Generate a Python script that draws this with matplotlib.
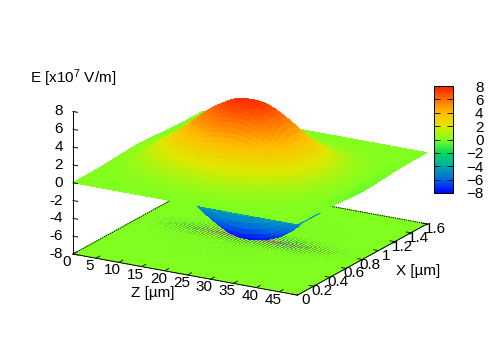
import matplotlib
matplotlib.use('Agg')
import matplotlib.pyplot as plt
import numpy as np
from matplotlib.colors import LinearSegmentedColormap, Normalize
from matplotlib.cm import ScalarMappable
from mpl_toolkits.mplot3d import proj3d

plt.rcParams['font.family'] = 'Liberation Sans'
plt.rcParams['mathtext.default'] = 'regular'
plt.rcParams['font.size'] = 11

# -----------------------------
# Data
# -----------------------------
z_um = np.arange(50.0)
# relative height of the hump along z, one value per um
along_z = np.array([.04, .03, .04, .08, .13, .18, .22, .27, .32, .37,
                    .43, .49, .55, .61, .67, .73, .78, .83, .87, .91,
                    .95, .975, .99, 1, 1, 1, .99, .97, .94, .90,
                    .85, .80, .74, .68, .61, .54, .47, .41, .35, .29,
                    .24, .19, .15, .11, .08, .05, .03, .01, -.02, -.05])
# same for the dip, which runs further to the right
low_z = np.array([.03, .03, .04, .08, .13, .18, .22, .27, .32, .37,
                  .43, .49, .55, .61, .67, .73, .78, .83, .87, .91,
                  .94, .97, .985, .995, 1, 1, .99, .98, .965, .945,
                  .92, .89, .85, .81, .76, .70, .63, .55, .47, .39,
                  .32, .27, .22, .17, .13, .09, .06, .04, .02, .01])
x_um = np.arange(65) * 0.025
# profiles across x from the edge to the middle, the other half is the mirror image
top_half = [0, .005, .01, .015, .02, .025, .035, .045, .055, .07, .09, .11, .135, .165, .195, .23, .27,
            .315, .365, .42, .475, .535, .595, .655, .715, .775, .83, .88, .92, .955, .98, .995, 1]
low_half = [0, 0, 0, 0, 0, 0, 0, .005, .005, .005, .01, .01, .01, .015, .015, .02, .025,
            .035, .05, .07, .1, .14, .2, .27, .36, .46, .57, .68, .78, .87, .94, .985, 1]
stripe_half = [0, 0, .01, .01, .01, .01, .01, .01, .01, .015, .015, .015, .02, .02, .02, .025, .03,
               .03, .04, .04, .05, .05, .05, .05, .05, .08, .12, .2, .3, .45, .6, .75, 1]
top_peak = 7.5
low_peak = 8.0
stripe_peak = 5.5

z_ticks = [0, 5, 10, 15, 20, 25, 30, 35, 40, 45]
x_ticks = [0, .2, .4, .6, .8, 1, 1.2, 1.4, 1.6]
x_ticklabels = ['0', '0.2', '0.4', '0.6', '0.8', '1', '1.2', '1.4', '1.6']
e_ticks = [-8, -6, -4, -2, 0, 2, 4, 6, 8]

palette = ['#0000ff', '#0068e0', '#00aaa8', '#00dc58', '#80ff20',
           '#e0e800', '#ffbc00', '#ff7000', '#ff1c00']


def mirror(half):
    half = np.array(half, dtype=float)
    return np.r_[half, half[-2::-1]]


# -----------------------------
# Surfaces
# -----------------------------
cmap = LinearSegmentedColormap.from_list('efield', palette, N=256)
norm = Normalize(-8, 8)

ZZ, XX = np.meshgrid(z_um, x_um)
E_top = top_peak * np.outer(mirror(top_half), along_z)
E_low = -low_peak * np.outer(mirror(low_half), low_z)

fig = plt.figure(figsize=(5.01, 3.51), dpi=100)
ax = fig.add_axes([0.1, 0.1, 0.8, 0.8], projection='3d', proj_type='ortho', computed_zorder=False)
ax.view_init(elev=18.5, azim=-60)
ax.set_box_aspect((1, 1, 0.58))
ax.set_xlim(0, 49)
ax.set_ylim(0, 1.6)
ax.set_zlim(-8, 8)
ax.set_axis_off()

# floor map, each z cell split in 3 stripes of alternating sign
split = 3
z_edges = np.linspace(0, 49, (len(z_um) - 1) * split + 1)
ZF, XF = np.meshgrid(z_edges, x_um)
signs = np.where(np.arange(len(z_edges) - 1) % 2 == 0, 1.0, -1.0)
cell_z = np.repeat(low_z[:-1], split)
floor_E = stripe_peak * np.outer(mirror(stripe_half)[:-1], cell_z * signs)
ax.plot_surface(ZF, XF, np.full(ZF.shape, -8.0), facecolors=cmap(norm(floor_E)), rstride=1, cstride=1,
                shade=False, antialiased=False, linewidth=0, zorder=1)

# box edges on the floor
ax.plot([0, 49], [0, 0], [-8, -8], color='k', lw=0.7, zorder=2)
ax.plot([49, 49], [0, 1.6], [-8, -8], color='k', lw=0.7, zorder=2)
ax.plot([0, 0], [0, 1.6], [-8, -8], color='k', lw=0.8, ls=(0, (1, 1)), zorder=2)
ax.plot([0, 49], [1.6, 1.6], [-8, -8], color='k', lw=0.8, ls=(0, (1, 1)), zorder=2)

ax.plot_surface(ZZ, XX, E_low, cmap=cmap, vmin=-8, vmax=8, rstride=1, cstride=1,
                shade=False, antialiased=False, linewidth=0, zorder=3)
# thin blue tail under the z=max edge
ax.plot([49, 49], [0, 0.27], [-0.1, -0.1], color='#0090d0', lw=1.6, zorder=3.5)
ax.plot_surface(ZZ, XX, E_top, cmap=cmap, vmin=-8, vmax=8, rstride=1, cstride=1,
                shade=False, antialiased=False, linewidth=0, zorder=4)

# vertical axis and ticks
ax.plot([0, 0], [0, 0], [-8, 8], color='k', lw=0.7, zorder=5)
for e in e_ticks:
    ax.plot([0, 1], [0, 0], [e, e], color='k', lw=0.7, zorder=5)
for z in z_ticks:
    ax.plot([z, z], [0, 0.05], [-8, -8], color='k', lw=0.6, zorder=5)
for x in x_ticks:
    ax.plot([49, 48], [x, x], [-8, -8], color='k', lw=0.6, zorder=5)


# move the axes so the floor corners land where they are in the picture
def to_px(a, b, c):
    px, py, _ = proj3d.proj_transform(a, b, c, ax.get_proj())
    return ax.transData.transform((px, py))


fig.canvas.draw()
p0 = to_px(0, 0, -8)
p1 = to_px(49, 1.6, -8)
scale = (427 - 73) / (p1[0] - p0[0])
pos = ax.get_position(original=True)
ax.set_position([0.1, 0.1, pos.width * scale, pos.height * scale])
fig.canvas.draw()
p0 = to_px(0, 0, -8)
pos = ax.get_position(original=True)
ax.set_position([pos.x0 + (73 - p0[0]) / 501, pos.y0 + (351 - 254 - p0[1]) / 351, pos.width, pos.height])
fig.canvas.draw()


# tick labels sit a fixed number of pixels away from their tick
def tick_label(a, b, c, text, dx, dy, ha='center'):
    px, py = to_px(a, b, c)
    fig.text((px + dx) / 501, (py + dy) / 351, text, ha=ha, va='center')


for e in e_ticks:
    tick_label(0, 0, e, str(e), -10, 0, ha='right')
for z in z_ticks:
    tick_label(z, 0, -8, str(z), -6, -8)
for x, lab in zip(x_ticks, x_ticklabels):
    tick_label(49, x, -8, lab, 8, -5)

# -----------------------------
# Labels and colour bar
# -----------------------------
fig.text(30 / 501, 1 - 78 / 351, 'E [x10$^{7}$ V/m]', ha='left', va='center')
fig.text(153 / 501, 1 - 293 / 351, 'Z [µm]', ha='center', va='center')
fig.text(418 / 501, 1 - 271 / 351, 'X [µm]', ha='center', va='center')

cax = fig.add_axes([434 / 501, 1 - 193 / 351, 19 / 501, 107 / 351])
cb = fig.colorbar(ScalarMappable(norm=norm, cmap=cmap), cax=cax, ticks=e_ticks)
cb.outline.set_linewidth(0.7)
cax.tick_params(left=True, right=True, direction='in', length=4, width=0.6, pad=22)
for lab in cax.get_yticklabels():
    lab.set_ha('right')

fig.savefig('out.png', dpi=100)
